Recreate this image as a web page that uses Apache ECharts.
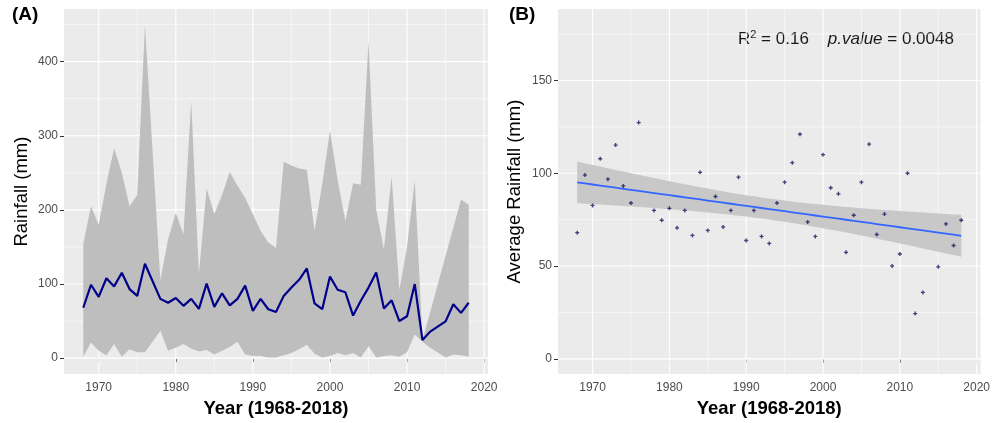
<!DOCTYPE html>
<html><head><meta charset="utf-8">
<script src="https://cdn.jsdelivr.net/npm/echarts@6/dist/echarts.min.js"></script>
<style>html,body{margin:0;padding:0;background:#fff}#c{width:993px;height:423px}</style>
</head><body><div id="c"></div>
<script>
// ---- data ----
const years = [1968,1969,1970,1971,1972,1973,1974,1975,1976,1978,1979,1980,1981,1982,1983,1984,1985,1986,1987,1988,1989,1990,1991,1992,1993,1994,1995,1996,1997,1998,1999,2000,2001,2002,2003,2004,2005,2006,2007,2008,2009,2010,2011,2012,2013,2015,2016,2017,2018];
const meanRain = [68,99,82.7,107.8,96.8,115.2,93.2,84,127.3,80,74.7,81.1,70.6,80,66.5,100.5,69.2,87.5,71.1,80,97.9,63.8,80,66,62.2,84,95.2,105.7,121,73.8,66,110,92.2,88.9,57.4,77.4,95.2,115.7,67,78,50.1,56.5,100,24.4,35.8,49.6,72.7,61.1,74.7];
const maxRain = [154,205,180,235,283,250,205,220,449,105,160,196,167,347,114,229,194,220,251,233,216,194,172,156,149,265,260,256,254,172,235,307,240,185,236,234,427,200,147,245,92,150,240,25,62,138,176,214,207];
const minRain = [2,21,10,4,19,2,12,8,8,37,10,14,19,13,9,11,5,10,15,22,5,3,3,1,1,4,7,12,18,6,1,3,7,4,7,1,16,1,3,4,2,8,32,22,14,1,5,4,2];

const xMajor = [1970,1980,1990,2000,2010,2020];
const xMinor = [1975,1985,1995,2005,2015];
const yMajorA = [0,100,200,300,400];
const yMinorA = [50,150,250,350,450];
const yMajorB = [0,50,100,150];
const yMinorB = [25,75,125,175];

const annotR2 = '0.16';
const annotP = '0.0048';

// ---- linear fit with 95% confidence band (from the data) ----
const n = years.length;
const xbar = years.reduce((a,b)=>a+b,0)/n;
const ybar = meanRain.reduce((a,b)=>a+b,0)/n;
let sxx=0, sxy=0;
for (let i=0;i<n;i++){ sxx += (years[i]-xbar)**2; sxy += (years[i]-xbar)*(meanRain[i]-ybar); }
const slope = sxy/sxx, icpt = ybar - slope*xbar;
let sse=0; for (let i=0;i<n;i++){ sse += (meanRain[i]-(icpt+slope*years[i]))**2; }
const sres = Math.sqrt(sse/(n-2));
const tq = 2.0117;
const fitX = years;
const fitY = fitX.map(x=>icpt+slope*x);
const fitHalf = fitX.map(x=>tq*sres*Math.sqrt(1/n + (x-xbar)**2/sxx));

// ---- helpers ----
function gridLines(idx, xMaj, xMin, yMaj, yMin) {
  const data = [];
  xMin.forEach(v=>data.push([v, yMaj[1], 1]));
  yMin.forEach(v=>data.push([xMaj[1], v, 3]));
  xMaj.forEach(v=>data.push([v, yMaj[1], 0]));
  yMaj.forEach(v=>data.push([xMaj[1], v, 2]));
  return {
    type:'custom', xAxisIndex:idx, yAxisIndex:idx, silent:true, z:1, animation:false,
    data,
    renderItem(params, api){
      const cs = params.coordSys;
      const k = api.value(2);
      const p = api.coord([api.value(0), api.value(1)]);
      const w = (k===0||k===2) ? 1.1 : 0.55;
      if (k<2) return {type:'line', shape:{x1:p[0],y1:cs.y,x2:p[0],y2:cs.y+cs.height}, style:{stroke:'#fff', lineWidth:w}};
      return {type:'line', shape:{x1:cs.x,y1:p[1],x2:cs.x+cs.width,y2:p[1]}, style:{stroke:'#fff', lineWidth:w}};
    }
  };
}
function band(idx, xs, lo, hi, color, z) {
  return {
    type:'custom', xAxisIndex:idx, yAxisIndex:idx, silent:true, z, animation:false,
    data: xs.map((x,i)=>[x, lo[i], hi[i]]),
    encode:{x:0, y:[1,2]},
    renderItem(params, api){
      if (params.dataIndex !== 0) return;
      const pts = [];
      for (let i=0;i<xs.length;i++) pts.push(api.coord([xs[i], hi[i]]));
      for (let i=xs.length-1;i>=0;i--) pts.push(api.coord([xs[i], lo[i]]));
      return {type:'polygon', shape:{points:pts}, style:{fill:color}};
    }
  };
}
const tickStyle = {show:true, length:4, lineStyle:{color:'#333', width:1}};
const labStyle = {color:'#4D4D4D', fontSize:12, fontFamily:'Liberation Sans'};
function xAx(idx){
  return {type:'value', gridIndex:idx, min:1965.5, max:2020.5,
    axisLine:{show:false}, splitLine:{show:false},
    axisTick:Object.assign({customValues:xMajor}, tickStyle),
    axisLabel:Object.assign({customValues:xMajor, margin:8, formatter:v=>(v%10===0?String(v):'')}, labStyle),
    name:'Year (1968-2018)', nameLocation:'middle', nameGap:22,
    nameTextStyle:{fontWeight:'bold', fontSize:18.5, color:'#000', fontFamily:'Liberation Sans'}};
}
function yAx(idx, min, max, maj, step, name, gap){
  return {type:'value', gridIndex:idx, min, max,
    axisLine:{show:false}, splitLine:{show:false},
    axisTick:Object.assign({customValues:maj}, tickStyle),
    axisLabel:Object.assign({customValues:maj, margin:6, formatter:v=>(v%step===0?String(v):'')}, labStyle),
    name, nameLocation:'middle', nameGap:gap,
    nameTextStyle:{fontSize:18.5, color:'#000', fontFamily:'Liberation Sans'}};
}

const meanPairs = years.map((y,i)=>[y, meanRain[i]]);
const fitLo = fitY.map((v,i)=>v-fitHalf[i]);
const fitHi = fitY.map((v,i)=>v+fitHalf[i]);

const chart = echarts.init(document.getElementById('c'));
chart.setOption({
  animation:false,
  textStyle:{fontFamily:'Liberation Sans'},
  grid:[
    {left:64, right:505, top:9, bottom:45, show:true, backgroundColor:'#EBEBEB', borderWidth:0},
    {left:558, right:11, top:9, bottom:45, show:true, backgroundColor:'#EBEBEB', borderWidth:0}
  ],
  xAxis:[xAx(0), xAx(1)],
  yAxis:[
    yAx(0, -21.5, 471, yMajorA, 100, 'Rainfall (mm)', 33),
    yAx(1, -8.2, 188.5, yMajorB, 50, 'Average Rainfall (mm)', 34)
  ],
  graphic:[
    {type:'text', left:12, top:5, style:{text:'(A)', font:'bold 19px "Liberation Sans"', fill:'#000'}},
    {type:'text', left:509, top:5, style:{text:'(B)', font:'bold 19px "Liberation Sans"', fill:'#000'}},
    {type:'text', left:738, top:29, style:{
      text:'{n|R}{s|2}{n| = '+annotR2+'    }{i|p.value}{n| = '+annotP+'}',
      rich:{
        n:{fontSize:17, lineHeight:21, verticalAlign:'middle', fill:'#1a1a1a', fontFamily:'Liberation Sans'},
        s:{fontSize:11, lineHeight:21, verticalAlign:'top', fill:'#1a1a1a', fontFamily:'Liberation Sans'},
        i:{fontSize:17, lineHeight:21, verticalAlign:'middle', fontStyle:'italic', fill:'#1a1a1a', fontFamily:'Liberation Sans'}
      }}}
  ],
  series:[
    gridLines(0, xMajor, xMinor, yMajorA, yMinorA),
    gridLines(1, xMajor, xMinor, yMajorB, yMinorB),
    band(0, years, minRain, maxRain, '#BEBEBE', 2),
    {type:'line', xAxisIndex:0, yAxisIndex:0, data:meanPairs, showSymbol:false, z:3,
      lineStyle:{color:'#00008B', width:2.2}},
    band(1, fitX, fitLo, fitHi, '#C8C8C8', 2),
    {type:'line', xAxisIndex:1, yAxisIndex:1, data:fitX.map((x,i)=>[x, fitY[i]]), showSymbol:false, z:3,
      lineStyle:{color:'#3366FF', width:1.8}},
    {type:'scatter', xAxisIndex:1, yAxisIndex:1, data:meanPairs, z:4,
      symbol:'path://M2,0h2v2h2v2h-2v2h-2v-2h-2v-2h2z', symbolSize:4,
      itemStyle:{color:'#141460'}}
  ]
});
</script></body></html>
